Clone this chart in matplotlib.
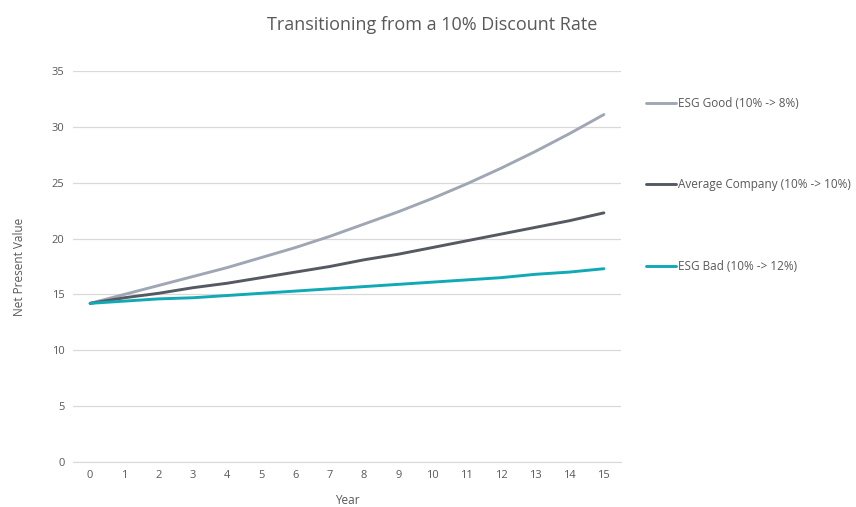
import matplotlib
matplotlib.use("Agg")
import matplotlib.pyplot as plt

# ── data ──────────────────────────────────────────────────────────────────
years = list(range(16))
esg_good = [14.2, 15.0, 15.8, 16.6, 17.4, 18.3, 19.2, 20.2,
            21.3, 22.4, 23.6, 24.9, 26.3, 27.8, 29.4, 31.1]
average = [14.2, 14.7, 15.1, 15.6, 16.0, 16.5, 17.0, 17.5,
           18.1, 18.6, 19.2, 19.8, 20.4, 21.0, 21.6, 22.3]
esg_bad = [14.2, 14.4, 14.6, 14.7, 14.9, 15.1, 15.3, 15.5,
           15.7, 15.9, 16.1, 16.3, 16.5, 16.8, 17.0, 17.3]
labels = ["ESG Good (10% -> 8%)", "Average Company (10% -> 10%)", "ESG Bad (10% -> 12%)"]
colors = ["#A0A7B4", "#555962", "#10A9B5"]
y_ticks = [0, 5, 10, 15, 20, 25, 30, 35]

plt.rcParams["font.family"] = ["Open Sans", "DejaVu Sans"]
text_grey = "#595959"

fig = plt.figure(figsize=(8.56, 5.07), dpi=100)
ax = fig.add_axes([0.0853, 0.0888, 0.6402, 0.7712])

for series, label, color in zip([esg_good, average, esg_bad], labels, colors):
    ax.plot(years, series, color=color, lw=2.1, label=label, solid_capstyle="round")

ax.set_xlim(-0.5, 15.5)
ax.set_ylim(0, 35)
ax.set_xticks(years)
ax.set_yticks(y_ticks)
ax.tick_params(length=0, labelsize=8, labelcolor=text_grey, pad=6)
ax.grid(axis="y", color="#D9D9D9", lw=0.9)
ax.set_axisbelow(True)
for side in ["top", "right", "left"]:
    ax.spines[side].set_visible(False)
ax.spines["bottom"].set_color("#D9D9D9")

ax.set_xlabel("Year", fontsize=8.5, color=text_grey, labelpad=9)
ax.set_ylabel("Net Present Value", fontsize=8.5, color=text_grey, labelpad=19)

fig.suptitle("Transitioning from a 10% Discount Rate", x=0.505, y=0.968,
             fontsize=13, color=text_grey)

leg = ax.legend(loc="upper left", bbox_to_anchor=(0.742, 0.830),
                bbox_transform=fig.transFigure, frameon=False,
                fontsize=8.5, handlelength=2.55, handletextpad=0.2,
                labelspacing=5.8)
for txt in leg.get_texts():
    txt.set_color(text_grey)

fig.savefig("out.png", dpi=100)
